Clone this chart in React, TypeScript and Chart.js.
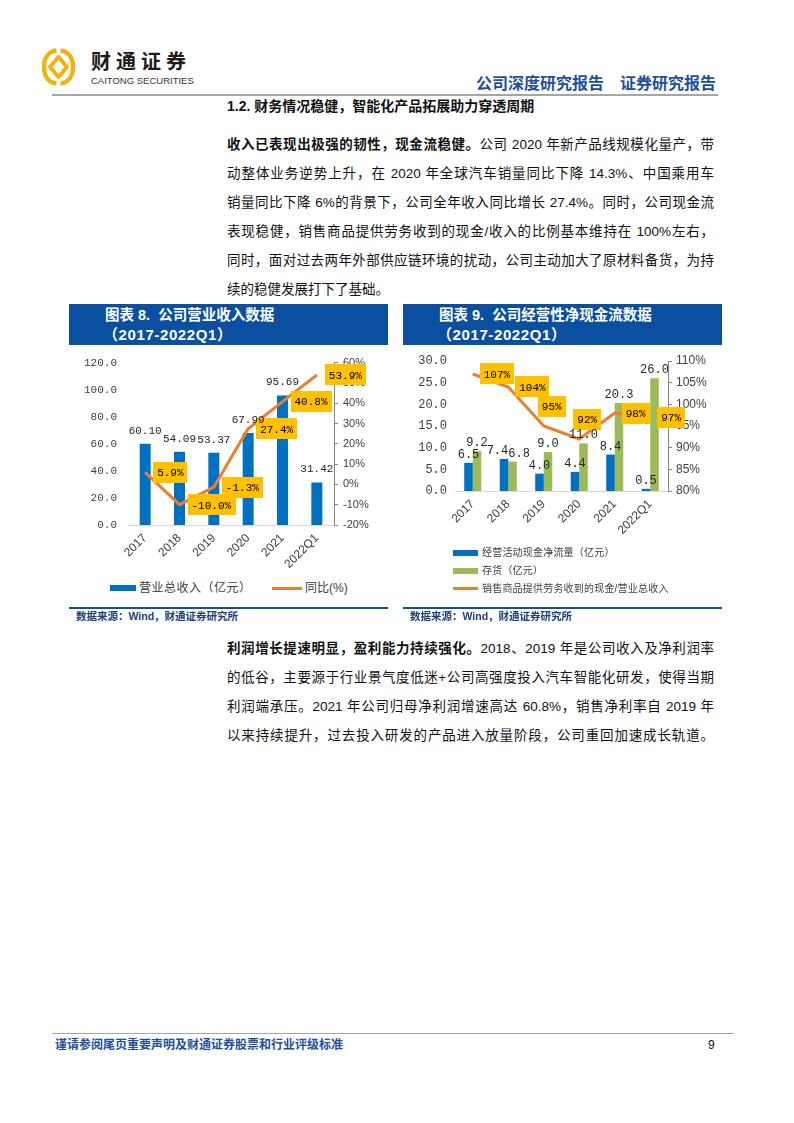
import React, { useEffect, useRef } from 'react';
import { Chart, registerables } from 'chart.js';

Chart.register(...registerables);

// ---------- data ----------
const years = ['2017', '2018', '2019', '2020', '2021', '2022Q1'];

// 图表8
const revenue = [60.10, 54.09, 53.37, 67.99, 95.69, 31.42];
const revenueYoY = [5.9, -10.0, -1.3, 27.4, 40.8, 53.9];
const revenueTicks = [0, 20, 40, 60, 80, 100, 120];
const yoyTicks = [-20, -10, 0, 10, 20, 30, 40, 50, 60];

// 图表9
const opCashFlow = [6.5, 7.4, 4.0, 4.4, 8.4, 0.5];
const inventory = [9.2, 6.8, 9.0, 11.0, 20.3, 26.0];
const cashToRevenue = [107, 104, 95, 92, 98, 97];
const cashTicks = [0, 5, 10, 15, 20, 25, 30];
const ratioTicks = [80, 85, 90, 95, 100, 105, 110];
const ratioLabelPlacement = ['right', 'right', 'above', 'above', 'right', 'right'];

// ---------- styles ----------
const BLUE = '#0070C0';
const GREEN = '#9BBB59';
const ORANGE = '#ED7D31';
const YELLOW = '#FFC000';
const HEAD_BLUE = '#0A4FA0';
const MONO = '"Liberation Mono", "DejaVu Sans Mono", monospace';
const SANS = '"Liberation Sans", Arial, sans-serif';
const CJK = '"Liberation Sans", "Noto Sans CJK SC", sans-serif';

const labelsPlugin = {
  id: 'pageLabels',
  afterDatasetsDraw(chart: any, _args: any, opts: any) {
    const ctx = chart.ctx;
    ctx.save();
    // yellow boxes on the line
    if (opts.line) {
      const cfg = opts.line;
      const meta = chart.getDatasetMeta(cfg.index);
      const ds = chart.data.datasets[cfg.index];
      ctx.font = cfg.font;
      ctx.textAlign = 'center';
      ctx.textBaseline = 'middle';
      meta.data.forEach((el: any, i: number) => {
        const text = cfg.format(ds.data[i]);
        const w = ctx.measureText(text).width + cfg.padX * 2;
        const h = cfg.height;
        const place = cfg.placement ? cfg.placement[i] : 'right';
        let cx: number;
        let cy: number;
        if (place === 'above') {
          cx = el.x + 8;
          cy = el.y - 20;
        } else {
          cx = el.x + cfg.gap + w / 2;
          cy = el.y;
        }
        ctx.fillStyle = cfg.bg;
        ctx.fillRect(Math.round(cx - w / 2), Math.round(cy - h / 2), Math.round(w), h);
        ctx.fillStyle = cfg.color;
        ctx.fillText(text, cx, cy + 1);
      });
    }
    // bar value labels, nudged apart when two labels of a category collide
    const items: any[] = [];
    (opts.bars || []).forEach((cfg: any) => {
      const meta = chart.getDatasetMeta(cfg.index);
      const ds = chart.data.datasets[cfg.index];
      ctx.font = cfg.font;
      meta.data.forEach((el: any, i: number) => {
        const text = cfg.format(ds.data[i]);
        items.push({ i, text, x: el.x, y: el.y - cfg.gap, w: ctx.measureText(text).width, font: cfg.font, color: cfg.color });
      });
    });
    for (let a = 0; a < items.length; a++) {
      for (let b = a + 1; b < items.length; b++) {
        const p = items[a];
        const q = items[b];
        if (p.i !== q.i || Math.abs(p.y - q.y) > 10) continue;
        const left = p.x < q.x ? p : q;
        const right = p.x < q.x ? q : p;
        const overlap = left.x + left.w / 2 - (right.x - right.w / 2);
        if (overlap > 0) {
          left.x -= overlap / 2;
          right.x += overlap / 2;
        }
      }
    }
    ctx.textAlign = 'center';
    ctx.textBaseline = 'alphabetic';
    items.forEach((it) => {
      ctx.font = it.font;
      ctx.fillStyle = it.color;
      ctx.fillText(it.text, it.x, it.y);
    });
    ctx.restore();
  },
};

function RevenueChart() {
  const ref = useRef<HTMLCanvasElement>(null);
  useEffect(() => {
    const chart = new Chart(ref.current as HTMLCanvasElement, {
      type: 'bar',
      data: {
        labels: years,
        datasets: [
          {
            type: 'bar',
            label: '营业总收入（亿元）',
            data: revenue,
            backgroundColor: BLUE,
            yAxisID: 'y',
            order: 2,
            categoryPercentage: 1,
            barPercentage: 0.32,
          } as any,
          {
            type: 'line',
            label: '同比(%)',
            data: revenueYoY,
            borderColor: ORANGE,
            backgroundColor: ORANGE,
            borderWidth: 3,
            pointRadius: 0,
            tension: 0,
            yAxisID: 'y1',
            order: 1,
          } as any,
        ],
      },
      options: {
        responsive: false,
        animation: false,
        layout: { padding: { top: 16, left: 0, right: 0, bottom: 0 } },
        plugins: {
          legend: { display: false },
          tooltip: { enabled: false },
          pageLabels: {
            bars: [{ index: 0, font: `11px ${MONO}`, color: '#262626', gap: 10, format: (v: number) => v.toFixed(2) }],
            line: { index: 1, font: `11px ${MONO}`, color: '#000', bg: YELLOW, padX: 4, height: 21, gap: 8, format: (v: number) => v.toFixed(1) + '%' },
          },
        } as any,
        scales: {
          x: {
            grid: { display: false, drawTicks: false },
            border: { display: true, color: '#D9D9D9' },
            ticks: { font: { family: SANS, size: 12 }, color: '#404040', minRotation: 45, maxRotation: 45, padding: 6, autoSkip: false },
            afterFit: (s: any) => { s.height = 50; },
          },
          y: {
            position: 'left',
            min: revenueTicks[0],
            max: revenueTicks[revenueTicks.length - 1],
            ticks: { stepSize: revenueTicks[1] - revenueTicks[0], callback: (v: any) => Number(v).toFixed(1), font: { family: MONO, size: 11 }, color: '#404040', padding: 11 },
            grid: { display: false, drawTicks: false },
            border: { display: false },
            afterFit: (s: any) => { s.width = 59; },
          },
          y1: {
            position: 'right',
            min: yoyTicks[0],
            max: yoyTicks[yoyTicks.length - 1],
            z: 1,
            ticks: { stepSize: yoyTicks[1] - yoyTicks[0], callback: (v: any) => v + '%', font: { family: SANS, size: 11 }, color: '#404040', padding: 5 },
            grid: { display: true, drawOnChartArea: false, drawTicks: true, tickLength: 4, color: '#868686' },
            border: { display: true, color: '#868686' },
            afterFit: (s: any) => { s.width = 54; },
          },
        } as any,
      },
      plugins: [labelsPlugin as any],
    });
    return () => chart.destroy();
  }, []);
  return <canvas ref={ref} width={319} height={230} style={{ position: 'absolute', left: 69, top: 345, width: 319, height: 230 }} />;
}

function CashChart() {
  const ref = useRef<HTMLCanvasElement>(null);
  useEffect(() => {
    const chart = new Chart(ref.current as HTMLCanvasElement, {
      type: 'bar',
      data: {
        labels: years,
        datasets: [
          {
            type: 'bar',
            label: '经营活动现金净流量（亿元）',
            data: opCashFlow,
            backgroundColor: BLUE,
            yAxisID: 'y',
            order: 2,
            categoryPercentage: 0.48,
            barPercentage: 1,
          } as any,
          {
            type: 'bar',
            label: '存货（亿元）',
            data: inventory,
            backgroundColor: GREEN,
            yAxisID: 'y',
            order: 3,
            categoryPercentage: 0.48,
            barPercentage: 1,
          } as any,
          {
            type: 'line',
            label: '销售商品提供劳务收到的现金/营业总收入',
            data: cashToRevenue,
            borderColor: ORANGE,
            backgroundColor: ORANGE,
            borderWidth: 3,
            pointRadius: 0,
            tension: 0,
            yAxisID: 'y1',
            order: 1,
          } as any,
        ],
      },
      options: {
        responsive: false,
        animation: false,
        layout: { padding: { top: 16, left: 0, right: 0, bottom: 0 } },
        plugins: {
          legend: { display: false },
          tooltip: { enabled: false },
          pageLabels: {
            bars: [
              { index: 0, font: `12px ${MONO}`, color: '#262626', gap: 5, format: (v: number) => v.toFixed(1) },
              { index: 1, font: `12px ${MONO}`, color: '#262626', gap: 5, format: (v: number) => v.toFixed(1) },
            ],
            line: { index: 2, font: `11px ${MONO}`, color: '#000', bg: YELLOW, padX: 4, height: 21, gap: 7, placement: ratioLabelPlacement, format: (v: number) => v.toFixed(0) + '%' },
          },
        } as any,
        scales: {
          x: {
            grid: { display: false, drawTicks: false },
            border: { display: true, color: '#D9D9D9' },
            ticks: { font: { family: SANS, size: 12 }, color: '#404040', minRotation: 45, maxRotation: 45, padding: 6, autoSkip: false },
            afterFit: (s: any) => { s.height = 84; },
          },
          y: {
            position: 'left',
            min: cashTicks[0],
            max: cashTicks[cashTicks.length - 1],
            ticks: { stepSize: cashTicks[1] - cashTicks[0], callback: (v: any) => Number(v).toFixed(1), font: { family: MONO, size: 12 }, color: '#404040', padding: 8 },
            grid: { display: false, drawTicks: false },
            border: { display: false },
            afterFit: (s: any) => { s.width = 52; },
          },
          y1: {
            position: 'right',
            min: ratioTicks[0],
            max: ratioTicks[ratioTicks.length - 1],
            z: 1,
            ticks: { stepSize: ratioTicks[1] - ratioTicks[0], callback: (v: any) => v + '%', font: { family: SANS, size: 12 }, color: '#404040', padding: 4 },
            grid: { display: true, drawOnChartArea: false, drawTicks: true, tickLength: 4, color: '#868686' },
            border: { display: true, color: '#868686' },
            afterFit: (s: any) => { s.width = 54; },
          },
        } as any,
      },
      plugins: [labelsPlugin as any],
    });
    return () => chart.destroy();
  }, []);
  return <canvas ref={ref} width={319} height={230} style={{ position: 'absolute', left: 403, top: 345, width: 319, height: 230 }} />;
}

const abs = (s: React.CSSProperties): React.CSSProperties => ({ position: 'absolute', ...s });

function TextLine({ top, children, justify = true }: { top: number; children: React.ReactNode; justify?: boolean }) {
  return (
    <div
      style={abs({
        left: 227,
        top,
        width: 487,
        height: 29,
        lineHeight: '29px',
        fontSize: 13.5,
        whiteSpace: 'nowrap',
        textAlign: justify ? 'justify' : 'left',
        textAlignLast: justify ? 'justify' : 'left',
        color: '#111',
      } as React.CSSProperties)}
    >
      {children}
    </div>
  );
}

function ChartHeader({ left, title }: { left: number; title: string }) {
  return (
    <div
      style={abs({
        left,
        top: 304,
        width: 319,
        height: 41,
        background: HEAD_BLUE,
        color: '#fff',
        fontWeight: 700,
        fontSize: 14.5,
        lineHeight: '20px',
        paddingLeft: 36,
        paddingTop: 1,
        boxSizing: 'border-box',
        whiteSpace: 'pre',
      })}
    >
      <div>{title}</div>
      <div style={{ marginLeft: -2, fontSize: 15, letterSpacing: 0.6 }}>（2017-2022Q1）</div>
    </div>
  );
}

function Source({ left }: { left: number }) {
  return (
    <>
      <div style={abs({ left, top: 607, width: 319, height: 2, background: HEAD_BLUE })} />
      <div style={abs({ left: left + 7, top: 609, fontSize: 10.5, lineHeight: '14px', fontWeight: 700, color: '#1F3D7A' })}>
        数据来源：Wind，财通证券研究所
      </div>
    </>
  );
}

export default function App() {
  const legendText: React.CSSProperties = { color: '#404040', fontFamily: CJK, whiteSpace: 'nowrap' };
  return (
    <div style={abs({ left: 0, top: 0, width: 794, height: 1123, background: '#fff', fontFamily: CJK, overflow: 'hidden' })}>
      {/* logo */}
      <svg style={abs({ left: 42, top: 48 })} width={33} height={38} viewBox="0 0 33 38">
        <path d="M14.5 2.5 C6 3.5 2 10.5 2 19 C2 27.5 6 34.5 14.5 35.5" stroke="#F5B10C" strokeWidth={4.5} fill="none" />
        <path d="M18.5 2.5 C27 3.5 31 10.5 31 19 C31 27.5 27 34.5 18.5 35.5" stroke="#F5B10C" strokeWidth={4.5} fill="none" />
        <path d="M16.5 9 L25 19 L16.5 29 L8 19 Z" stroke="#F5B10C" strokeWidth={4} fill="none" strokeLinejoin="round" />
      </svg>
      <div style={abs({ left: 91, top: 49, fontSize: 20, lineHeight: '24px', fontWeight: 700, letterSpacing: 5, color: '#231815', fontFamily: '"Noto Sans CJK SC", sans-serif', whiteSpace: 'nowrap' })}>
        财通证券
      </div>
      <div style={abs({ left: 91, top: 75, fontSize: 9.5, lineHeight: '12px', color: '#333', fontFamily: SANS, whiteSpace: 'nowrap' })}>CAITONG SECURITIES</div>
      <div style={abs({ right: 78, top: 73, fontSize: 16, lineHeight: '22px', fontWeight: 700, color: '#1E4E9C', whiteSpace: 'nowrap' })}>
        公司深度研究报告{'\u3000'}证券研究报告
      </div>
      <div style={abs({ left: 52, top: 94, width: 666, height: 2, background: '#A6A6A6' })} />

      {/* heading */}
      <div style={abs({ left: 227, top: 96, fontSize: 14, lineHeight: '20px', fontWeight: 700, color: '#111', whiteSpace: 'nowrap' })}>
        1.2. 财务情况稳健，智能化产品拓展助力穿透周期
      </div>

      {/* paragraph 1 */}
      <TextLine top={130}>
        <b>收入已表现出极强的韧性，现金流稳健。</b>公司 2020 年新产品线规模化量产，带
      </TextLine>
      <TextLine top={159}>动整体业务逆势上升，在 2020 年全球汽车销量同比下降 14.3%、中国乘用车</TextLine>
      <TextLine top={188}>销量同比下降 6%的背景下，公司全年收入同比增长 27.4%。同时，公司现金流</TextLine>
      <TextLine top={217}>表现稳健，销售商品提供劳务收到的现金/收入的比例基本维持在 100%左右，</TextLine>
      <TextLine top={246}>同时，面对过去两年外部供应链环境的扰动，公司主动加大了原材料备货，为持</TextLine>
      <TextLine top={275} justify={false}>续的稳健发展打下了基础。</TextLine>

      {/* chart 8 */}
      <ChartHeader left={69} title="图表 8.  公司营业收入数据" />
      <RevenueChart />
      <div style={abs({ left: 110, top: 585, width: 26, height: 6, background: BLUE })} />
      <div style={abs({ left: 139, top: 579, fontSize: 12, lineHeight: '18px', letterSpacing: 0.5, ...legendText })}>营业总收入（亿元）</div>
      <div style={abs({ left: 272, top: 587, width: 30, height: 3, background: ORANGE })} />
      <div style={abs({ left: 305, top: 579, fontSize: 12, lineHeight: '18px', ...legendText })}>同比(%)</div>
      <Source left={69} />

      {/* chart 9 */}
      <ChartHeader left={403} title="图表 9.  公司经营性净现金流数据" />
      <CashChart />
      <div style={abs({ left: 453, top: 550, width: 25, height: 6, background: BLUE })} />
      <div style={abs({ left: 482, top: 545, fontSize: 10, lineHeight: '16px', letterSpacing: 0.2, ...legendText })}>经营活动现金净流量（亿元）</div>
      <div style={abs({ left: 453, top: 568, width: 25, height: 6, background: GREEN })} />
      <div style={abs({ left: 482, top: 563, fontSize: 10, lineHeight: '16px', letterSpacing: 0.2, ...legendText })}>存货（亿元）</div>
      <div style={abs({ left: 453, top: 587, width: 25, height: 3, background: ORANGE })} />
      <div style={abs({ left: 482, top: 581, fontSize: 10, lineHeight: '16px', letterSpacing: 0.2, ...legendText })}>销售商品提供劳务收到的现金/营业总收入</div>
      <Source left={403} />

      {/* paragraph 2 */}
      <TextLine top={634}>
        <b>利润增长提速明显，盈利能力持续强化。</b>2018、2019 年是公司收入及净利润率
      </TextLine>
      <TextLine top={663}>的低谷，主要源于行业景气度低迷+公司高强度投入汽车智能化研发，使得当期</TextLine>
      <TextLine top={692}>利润端承压。2021 年公司归母净利润增速高达 60.8%，销售净利率自 2019 年</TextLine>
      <TextLine top={721}>以来持续提升，过去投入研发的产品进入放量阶段，公司重回加速成长轨道。</TextLine>

      {/* footer */}
      <div style={abs({ left: 52, top: 1033, width: 682, height: 1, background: '#A6A6A6' })} />
      <div style={abs({ left: 55, top: 1037, fontSize: 12, lineHeight: '16px', fontWeight: 700, color: '#1E4E9C', whiteSpace: 'nowrap' })}>
        谨请参阅尾页重要声明及财通证券股票和行业评级标准
      </div>
      <div style={abs({ left: 708, top: 1037, fontSize: 12, lineHeight: '16px', color: '#111', fontFamily: SANS })}>9</div>
    </div>
  );
}
